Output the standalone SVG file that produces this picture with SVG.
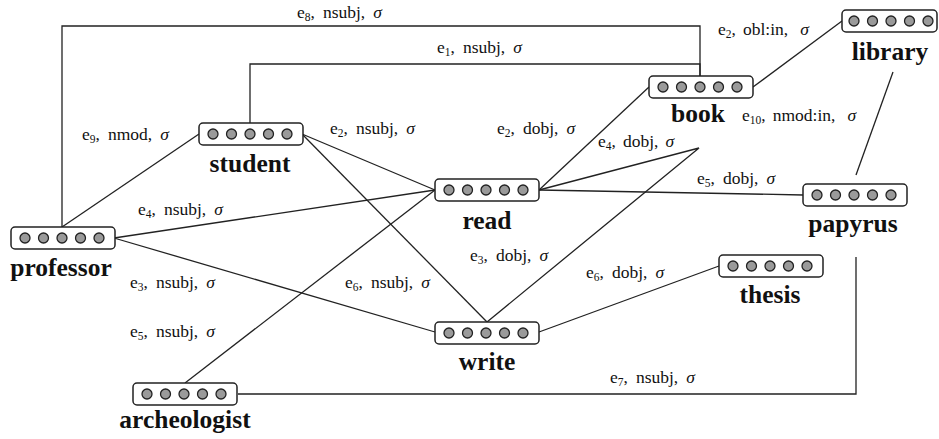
<svg xmlns="http://www.w3.org/2000/svg" width="939" height="439" viewBox="0 0 939 439">
<style>
.edge{fill:none;stroke:#222;stroke-width:1.3}
.box{fill:#fff;stroke:#222;stroke-width:1.5}
.dot{fill:#9a9a9a;stroke:#222;stroke-width:1.3}
text{font-family:'Liberation Serif','Times New Roman','DejaVu Serif',serif}
.nl{font-weight:bold;font-size:25.5px;fill:#111;text-anchor:middle}
.el{font-size:17.5px;fill:#111}
.sub{font-size:11.5px}
.sg{font-style:italic}
</style>
<rect width="939" height="439" fill="#fff"/>
<g id="connectors">
<polyline class="edge" points="62,227 62,26 700,26 700,76"/>
<polyline class="edge" points="250,123 250,64 700,64 700,76"/>
<line class="edge" x1="62" y1="227" x2="199" y2="134"/>
<line class="edge" x1="302" y1="134" x2="435" y2="190"/>
<line class="edge" x1="302" y1="134" x2="487" y2="322"/>
<line class="edge" x1="114" y1="238" x2="435" y2="190"/>
<line class="edge" x1="114" y1="238" x2="435" y2="332"/>
<line class="edge" x1="185" y1="383" x2="435" y2="190"/>
<line class="edge" x1="539" y1="190" x2="649" y2="87"/>
<polyline class="edge" points="539,190 699,148 487,322"/>
<line class="edge" x1="539" y1="190" x2="803" y2="195"/>
<line class="edge" x1="539" y1="332" x2="719" y2="266"/>
<polyline class="edge" points="238,394 856,394 856,257"/>
<line class="edge" x1="893" y1="72" x2="856" y2="175"/>
<line class="edge" x1="753" y1="87" x2="842" y2="21"/>
</g>
<g id="edge-labels">
<text class="el" x="297" y="18">e<tspan class="sub" dy="3">8</tspan><tspan dy="-3">,</tspan><tspan dx="8">nsubj,</tspan><tspan dx="8" class="sg">σ</tspan></text>
<text class="el" x="437" y="53">e<tspan class="sub" dy="3">1</tspan><tspan dy="-3">,</tspan><tspan dx="8">nsubj,</tspan><tspan dx="8" class="sg">σ</tspan></text>
<text class="el" x="82" y="140">e<tspan class="sub" dy="3">9</tspan><tspan dy="-3">,</tspan><tspan dx="8">nmod,</tspan><tspan dx="8" class="sg">σ</tspan></text>
<text class="el" x="330" y="134">e<tspan class="sub" dy="3">2</tspan><tspan dy="-3">,</tspan><tspan dx="8">nsubj,</tspan><tspan dx="8" class="sg">σ</tspan></text>
<text class="el" x="497" y="134">e<tspan class="sub" dy="3">2</tspan><tspan dy="-3">,</tspan><tspan dx="8">dobj,</tspan><tspan dx="8" class="sg">σ</tspan></text>
<text class="el" x="598" y="147">e<tspan class="sub" dy="3">4</tspan><tspan dy="-3">,</tspan><tspan dx="7">dobj,</tspan><tspan dx="7" class="sg">σ</tspan></text>
<text class="el" x="718" y="35">e<tspan class="sub" dy="3">2</tspan><tspan dy="-3">,</tspan><tspan dx="7">obl:in,</tspan><tspan dx="12" class="sg">σ</tspan></text>
<text class="el" x="742" y="121">e<tspan class="sub" dy="3">10</tspan><tspan dy="-3">,</tspan><tspan dx="7">nmod:in,</tspan><tspan dx="12" class="sg">σ</tspan></text>
<text class="el" x="697" y="184">e<tspan class="sub" dy="3">5</tspan><tspan dy="-3">,</tspan><tspan dx="8">dobj,</tspan><tspan dx="8" class="sg">σ</tspan></text>
<text class="el" x="138" y="215">e<tspan class="sub" dy="3">4</tspan><tspan dy="-3">,</tspan><tspan dx="8">nsubj,</tspan><tspan dx="8" class="sg">σ</tspan></text>
<text class="el" x="130" y="288">e<tspan class="sub" dy="3">3</tspan><tspan dy="-3">,</tspan><tspan dx="8">nsubj,</tspan><tspan dx="8" class="sg">σ</tspan></text>
<text class="el" x="470" y="261">e<tspan class="sub" dy="3">3</tspan><tspan dy="-3">,</tspan><tspan dx="8">dobj,</tspan><tspan dx="8" class="sg">σ</tspan></text>
<text class="el" x="345" y="288">e<tspan class="sub" dy="3">6</tspan><tspan dy="-3">,</tspan><tspan dx="8">nsubj,</tspan><tspan dx="8" class="sg">σ</tspan></text>
<text class="el" x="586" y="278">e<tspan class="sub" dy="3">6</tspan><tspan dy="-3">,</tspan><tspan dx="8">dobj,</tspan><tspan dx="8" class="sg">σ</tspan></text>
<text class="el" x="130" y="337">e<tspan class="sub" dy="3">5</tspan><tspan dy="-3">,</tspan><tspan dx="8">nsubj,</tspan><tspan dx="8" class="sg">σ</tspan></text>
<text class="el" x="610" y="383">e<tspan class="sub" dy="3">7</tspan><tspan dy="-3">,</tspan><tspan dx="8">nsubj,</tspan><tspan dx="8" class="sg">σ</tspan></text>
</g>
<defs>
<g id="dots">
<circle class="dot" cx="14" cy="11" r="5"/>
<circle class="dot" cx="32.5" cy="11" r="5"/>
<circle class="dot" cx="51" cy="11" r="5"/>
<circle class="dot" cx="69.5" cy="11" r="5"/>
<circle class="dot" cx="88" cy="11" r="5"/>
</g>
</defs>
<g id="node-library">
<rect class="box" x="842" y="10" width="95" height="22" rx="4"/>
<circle class="dot" cx="854" cy="21" r="5"/>
<circle class="dot" cx="872.5" cy="21" r="5"/>
<circle class="dot" cx="891" cy="21" r="5"/>
<circle class="dot" cx="909.5" cy="21" r="5"/>
<circle class="dot" cx="928" cy="21" r="5"/>
<text class="nl" x="890" y="60">library</text>
</g>
<g id="node-book">
<rect class="box" x="649" y="76" width="104" height="22" rx="4"/>
<use href="#dots" x="649" y="76"/>
<text class="nl" x="698" y="122">book</text>
</g>
<g id="node-student">
<rect class="box" x="199" y="123" width="104" height="22" rx="4"/>
<use href="#dots" x="199" y="123"/>
<text class="nl" x="250" y="172">student</text>
</g>
<g id="node-professor">
<rect class="box" x="11" y="227" width="104" height="22" rx="4"/>
<use href="#dots" x="11" y="227"/>
<text class="nl" x="61" y="276">professor</text>
</g>
<g id="node-read">
<rect class="box" x="435" y="179" width="104" height="22" rx="4"/>
<use href="#dots" x="435" y="179"/>
<text class="nl" x="487" y="229">read</text>
</g>
<g id="node-papyrus">
<rect class="box" x="803" y="184" width="104" height="22" rx="4"/>
<use href="#dots" x="803" y="184"/>
<text class="nl" x="853" y="232">papyrus</text>
</g>
<g id="node-thesis">
<rect class="box" x="719" y="255" width="104" height="22" rx="4"/>
<use href="#dots" x="719" y="255"/>
<text class="nl" x="770" y="303">thesis</text>
</g>
<g id="node-write">
<rect class="box" x="435" y="322" width="104" height="22" rx="4"/>
<use href="#dots" x="435" y="322"/>
<text class="nl" x="487" y="370">write</text>
</g>
<g id="node-archeologist">
<rect class="box" x="133" y="383" width="104" height="22" rx="4"/>
<use href="#dots" x="133" y="383"/>
<text class="nl" x="185" y="428">archeologist</text>
</g>
</svg>
